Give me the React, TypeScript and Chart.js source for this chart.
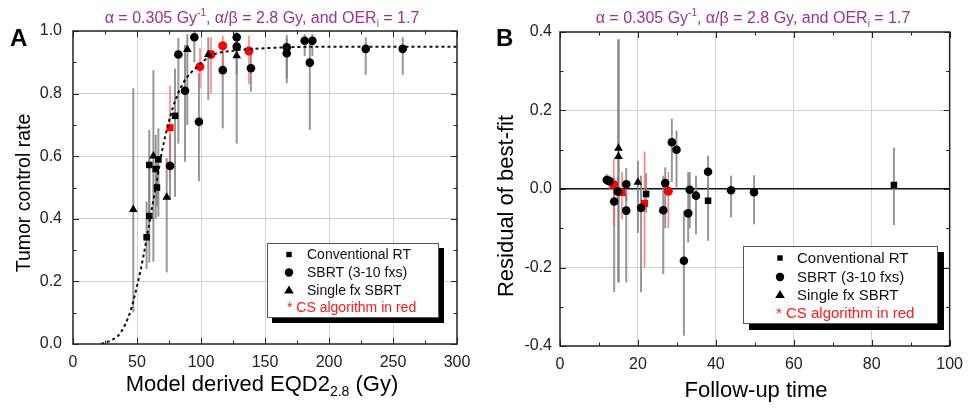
import React, { useEffect, useRef } from "react";
import { Chart, registerables } from "chart.js";
Chart.register(...registerables);

type Row = [number, number, number, number]; // x, y, lower, upper

// ---------------- Panel A data (EQD2 vs TCP) ----------------
const aConventional: Row[] = [
  [57.5, 0.341, 0.24, 0.455],
  [59.6, 0.409, 0.26, 0.59],
  [59.6, 0.572, 0.39, 0.684],
  [64.6, 0.559, 0.40, 0.668],
  [66.7, 0.59, 0.407, 0.689],
  [65.6, 0.50, 0.44, 0.58],
  [79.7, 0.729, 0.47, 0.88],
];
const aConventionalCS: Row[] = [[75.8, 0.691, 0.529, 0.824]];
const aSBRT: Row[] = [
  [75.8, 0.569, 0.46, 0.67],
  [82.3, 0.925, 0.64, 0.978],
  [87.5, 0.809, 0.582, 0.955],
  [94.8, 0.98, 0.9, 1.0],
  [98.4, 0.71, 0.52, 0.865],
  [117, 0.875, 0.689, 0.965],
  [127.9, 0.98, 0.93, 1.0],
  [127.9, 0.95, 0.86, 0.99],
  [139, 0.881, 0.806, 0.94],
  [167, 0.948, 0.833, 0.987],
  [167, 0.929, 0.85, 0.975],
  [181, 0.969, 0.92, 0.99],
  [187, 0.969, 0.92, 0.99],
  [185, 0.899, 0.684, 0.97],
  [228.7, 0.943, 0.86, 0.98],
  [257.6, 0.943, 0.86, 0.98],
];
const aSBRTCS: Row[] = [
  [99.2, 0.886, 0.817, 0.945],
  [107.8, 0.925, 0.8, 0.98],
  [117, 0.953, 0.87, 0.985],
  [137.5, 0.936, 0.83, 0.985],
];
const aSingle: Row[] = [
  [47.1, 0.43, 0.101, 0.817],
  [62.8, 0.601, 0.263, 0.875],
  [73.2, 0.469, 0.229, 0.594],
  [89.3, 0.941, 0.7, 0.99],
  [105.7, 0.925, 0.78, 0.98],
  [127.9, 0.921, 0.64, 0.975],
];
const aFitX = [22, 24, 30, 37, 44.5, 50, 55, 60, 65, 70, 78, 86, 97, 109, 125, 150, 200, 300];
const aFitY = [0, 0.003, 0.012, 0.035, 0.1, 0.185, 0.28, 0.395, 0.51, 0.625, 0.755, 0.833, 0.886, 0.923, 0.937, 0.945, 0.95, 0.95];
const aXTickLabels = ["0", "50", "100", "150", "200", "250", "300"];
const aYTickLabels = ["0.0", "0.2", "0.4", "0.6", "0.8", "1.0"];

// ---------------- Panel B data (follow-up vs residual) ----------------
const bConventional: Row[] = [
  [22.1, -0.013, -0.06, 0.04],
  [38.0, -0.03, -0.132, 0.01],
  [85.7, 0.01, -0.092, 0.105],
];
const bConventionalCS: Row[] = [
  [15.9, -0.009, -0.078, 0.043],
  [21.7, -0.037, -0.2, 0.095],
];
const bSBRT: Row[] = [
  [12.0, 0.023, 0.01, 0.038],
  [12.7, 0.02, 0.0, 0.035],
  [13.9, -0.032, -0.262, 0.03],
  [14.8, -0.006, -0.04, 0.03],
  [17.0, 0.012, -0.03, 0.053],
  [17.0, -0.055, -0.238, -0.01],
  [20.8, -0.048, -0.263, 0.034],
  [26.5, -0.054, -0.217, 0.034],
  [27.0, 0.015, -0.1, 0.055],
  [28.7, 0.119, 0.017, 0.179],
  [29.9, 0.1, 0.004, 0.149],
  [31.8, -0.183, -0.374, -0.055],
  [32.9, -0.062, -0.136, 0.043],
  [33.3, -0.002, -0.1, 0.043],
  [34.9, -0.017, -0.115, 0.034],
  [38.0, 0.044, 0.0, 0.085],
  [43.9, -0.003, -0.072, 0.034],
  [49.8, -0.008, -0.09, 0.035],
];
const bSBRTCS: Row[] = [
  [13.8, 0.011, -0.094, 0.077],
  [27.8, -0.006, -0.1, 0.043],
];
const bSingle: Row[] = [
  [15.0, 0.104, -0.238, 0.381],
  [15.0, 0.083, -0.238, 0.381],
  [20.0, 0.017, -0.112, 0.072],
];
const bXTickLabels = ["0", "20", "40", "60", "80", "100"];
const bYTickLabels = ["-0.4", "-0.2", "0.0", "0.2", "0.4"];

const legendLabels = ["Conventional RT", "SBRT (3-10 fxs)", "Single fx SBRT"];
const legendStyles = ["rect", "circle", "triangle"];
const csNote = "* CS algorithm in red";

// ---------------- Rendering ----------------
const FONT = "Arial, 'Liberation Sans', Helvetica, sans-serif";
const W = 486;
const H = 409;
const PURPLE = "#9a3399";

type Seg = { t: string; s: number; dy?: number };
const titleSegs: Seg[] = [
  { t: "\u03b1 = 0.305 Gy", s: 16 },
  { t: "-1", s: 10, dy: -7 },
  { t: ", \u03b1/\u03b2 = 2.8 Gy, and OER", s: 16 },
  { t: "i", s: 10, dy: 4 },
  { t: " = 1.7", s: 16 },
];

function drawRich(ctx: CanvasRenderingContext2D, segs: Seg[], cx: number, base: number, color: string) {
  let total = 0;
  for (const g of segs) {
    ctx.font = `${g.s}px ${FONT}`;
    total += ctx.measureText(g.t).width;
  }
  let x = cx - total / 2;
  ctx.fillStyle = color;
  ctx.textAlign = "left";
  ctx.textBaseline = "alphabetic";
  for (const g of segs) {
    ctx.font = `${g.s}px ${FONT}`;
    ctx.fillText(g.t, x, base + (g.dy || 0));
    x += ctx.measureText(g.t).width;
  }
}

function marker(ctx: CanvasRenderingContext2D, style: string, x: number, y: number, r: number) {
  ctx.beginPath();
  if (style === "rect") {
    ctx.rect(x - r * 0.75, y - r * 0.75, r * 1.5, r * 1.5);
  } else if (style === "circle") {
    ctx.arc(x, y, r, 0, Math.PI * 2);
  } else {
    ctx.moveTo(x, y - r * 1.05);
    ctx.lineTo(x + r * 1.1, y + r * 0.8);
    ctx.lineTo(x - r * 1.1, y + r * 0.8);
    ctx.closePath();
  }
  ctx.fill();
}

interface Spec {
  letter: string;
  xMin: number; xMax: number; xStep: number; xMinor: number;
  yMin: number; yMax: number; yStep: number; yMinor: number;
  xLabels: string[]; yLabels: string[];
  area: { left: number; right: number; top: number; bottom: number };
  titleCx: number;
  xTitle: Seg[]; xTitleCx: number; xTitleBase: number;
  yTitle: string; yTitleBaseX: number; yTitleCy: number; yTitleSize: number;
  tickPadX: number; tickPadY: number;
  zeroLine: boolean;
  legend: { l: number; t: number; r: number; b: number; off: number; mx: number; tx: number; rx: number; rows: number[]; size: number };
}

function series(rows: Row[], style: string, color: string, r: number, errColor: string, errWidth: number) {
  return {
    type: "scatter",
    data: rows.map((q) => ({ x: q[0], y: q[1] })),
    pointStyle: style,
    pointRadius: r,
    pointHoverRadius: r,
    pointBackgroundColor: color,
    pointBorderColor: color,
    pointBorderWidth: 0,
    backgroundColor: color,
    borderColor: color,
    errLo: rows.map((q) => q[2]),
    errHi: rows.map((q) => q[3]),
    errColor,
    errWidth,
  } as any;
}

function makeChart(canvas: HTMLCanvasElement, spec: Spec, datasets: any[]) {
  const A = spec.area;
  const mkGrid = (min: number, max: number, zero: boolean) => ({
    display: true,
    drawTicks: false,
    color: (c: any) => {
      const v = c.tick ? c.tick.value : NaN;
      if (isNaN(v)) return "rgba(0,0,0,0)";
      if (Math.abs(v - min) < 1e-9 || Math.abs(v - max) < 1e-9) return "rgba(0,0,0,0)";
      if (zero && Math.abs(v) < 1e-9) return "#111";
      return "#d2d2d2";
    },
    lineWidth: (c: any) => {
      const v = c.tick ? c.tick.value : NaN;
      if (zero && Math.abs(v) < 1e-9) return 1.4;
      return 1;
    },
  });

  const errPlugin = {
    id: "errbars",
    beforeDatasetsDraw(chart: any) {
      const ctx = chart.ctx as CanvasRenderingContext2D;
      const xs = chart.scales.x;
      const ys = chart.scales.y;
      ctx.save();
      chart.data.datasets.forEach((ds: any) => {
        if (!ds.errLo) return;
        ctx.strokeStyle = ds.errColor;
        ctx.lineWidth = ds.errWidth;
        ds.data.forEach((p: any, i: number) => {
          const px = xs.getPixelForValue(p.x);
          ctx.beginPath();
          ctx.moveTo(px, ys.getPixelForValue(ds.errLo[i]));
          ctx.lineTo(px, ys.getPixelForValue(ds.errHi[i]));
          ctx.stroke();
        });
      });
      ctx.restore();
    },
  };

  const decoPlugin = {
    id: "deco",
    afterDraw(chart: any) {
      const ctx = chart.ctx as CanvasRenderingContext2D;
      const xs = chart.scales.x;
      const ys = chart.scales.y;
      const ca = chart.chartArea;
      ctx.save();
      // ticks (inward, all four sides)
      ctx.strokeStyle = "#222";
      ctx.lineWidth = 1;
      const nx = Math.round((spec.xMax - spec.xMin) / spec.xMinor);
      for (let i = 0; i <= nx; i++) {
        const v = spec.xMin + i * spec.xMinor;
        const q = (v - spec.xMin) / spec.xStep;
        const len = Math.abs(q - Math.round(q)) < 1e-6 ? 6 : 3.5;
        const px = Math.round(xs.getPixelForValue(v)) + 0.5;
        ctx.beginPath();
        ctx.moveTo(px, ca.bottom);
        ctx.lineTo(px, ca.bottom - len);
        ctx.moveTo(px, ca.top);
        ctx.lineTo(px, ca.top + len);
        ctx.stroke();
      }
      const ny = Math.round((spec.yMax - spec.yMin) / spec.yMinor);
      for (let i = 0; i <= ny; i++) {
        const v = spec.yMin + i * spec.yMinor;
        const q = (v - spec.yMin) / spec.yStep;
        const len = Math.abs(q - Math.round(q)) < 1e-6 ? 6 : 3.5;
        const py = Math.round(ys.getPixelForValue(v)) + 0.5;
        ctx.beginPath();
        ctx.moveTo(ca.left, py);
        ctx.lineTo(ca.left + len, py);
        ctx.moveTo(ca.right, py);
        ctx.lineTo(ca.right - len, py);
        ctx.stroke();
      }
      // frame
      ctx.strokeStyle = "#222";
      ctx.lineWidth = 1.5;
      ctx.strokeRect(ca.left, ca.top, ca.right - ca.left, ca.bottom - ca.top);

      // legend
      const L = spec.legend;
      ctx.fillStyle = "#000";
      ctx.fillRect(L.l + L.off, L.t + L.off, L.r - L.l, L.b - L.t);
      ctx.fillStyle = "#fff";
      ctx.fillRect(L.l, L.t, L.r - L.l, L.b - L.t);
      ctx.strokeStyle = "#555";
      ctx.lineWidth = 1;
      ctx.strokeRect(L.l + 0.5, L.t + 0.5, L.r - L.l - 1, L.b - L.t - 1);
      ctx.font = `${L.size}px ${FONT}`;
      ctx.textBaseline = "middle";
      ctx.textAlign = "left";
      legendLabels.forEach((lab, i) => {
        ctx.fillStyle = "#000";
        marker(ctx, legendStyles[i], L.mx, L.rows[i], legendStyles[i] === "rect" ? 3.6 : legendStyles[i] === "circle" ? 4.2 : 4.4);
        ctx.fillStyle = "#111";
        ctx.fillText(lab, L.tx, L.rows[i] + 1);
      });
      ctx.fillStyle = "#ff1a1a";
      ctx.fillText(csNote, L.rx, L.rows[3] + 1);

      // title
      drawRich(ctx, titleSegs, spec.titleCx, 23, PURPLE);
      // panel letter
      ctx.font = `bold 24px ${FONT}`;
      ctx.fillStyle = "#000";
      ctx.textAlign = "left";
      ctx.textBaseline = "alphabetic";
      ctx.fillText(spec.letter, 10, 46);
      // x title
      drawRich(ctx, spec.xTitle, spec.xTitleCx, spec.xTitleBase, "#000");
      // y title
      ctx.save();
      ctx.translate(spec.yTitleBaseX, spec.yTitleCy);
      ctx.rotate(-Math.PI / 2);
      ctx.font = `${spec.yTitleSize}px ${FONT}`;
      ctx.textAlign = "center";
      ctx.textBaseline = "alphabetic";
      ctx.fillStyle = "#000";
      ctx.fillText(spec.yTitle, 0, 0);
      ctx.restore();
      ctx.restore();
    },
  };

  const labelOf = (labels: string[], min: number, step: number) => (v: any) => {
    const k = Math.round((Number(v) - min) / step);
    return labels[k] ?? "";
  };

  return new Chart(canvas, {
    type: "scatter",
    data: { datasets },
    options: {
      responsive: false,
      animation: false,
      events: [],
      layout: { padding: { left: 0, top: A.top, right: W - A.right, bottom: 0 } },
      plugins: { legend: { display: false }, tooltip: { enabled: false }, title: { display: false } },
      scales: {
        x: {
          type: "linear",
          position: "bottom",
          min: spec.xMin,
          max: spec.xMax,
          grid: mkGrid(spec.xMin, spec.xMax, false),
          border: { display: false },
          ticks: {
            stepSize: spec.xStep,
            autoSkip: false,
            maxRotation: 0,
            padding: spec.tickPadX,
            color: "#222",
            font: { family: FONT, size: 16 },
            callback: labelOf(spec.xLabels, spec.xMin, spec.xStep),
          },
          afterFit: (s: any) => {
            s.height = H - A.bottom;
          },
        },
        y: {
          type: "linear",
          position: "left",
          min: spec.yMin,
          max: spec.yMax,
          grid: mkGrid(spec.yMin, spec.yMax, spec.zeroLine),
          border: { display: false },
          ticks: {
            stepSize: spec.yStep,
            autoSkip: false,
            padding: spec.tickPadY,
            color: "#222",
            font: { family: FONT, size: 16 },
            callback: labelOf(spec.yLabels, spec.yMin, spec.yStep),
          },
          afterFit: (s: any) => {
            s.width = A.left;
          },
        },
      },
    } as any,
    plugins: [errPlugin, decoPlugin],
  });
}

const GRAY = "rgba(125,125,125,0.8)";
const LRED = "rgba(255,90,90,0.75)";

function datasetsFor(conv: Row[], convCS: Row[], sbrt: Row[], sbrtCS: Row[], single: Row[]) {
  return [
    series(conv, "rect", "#000", 4.6, GRAY, 2),
    series(sbrt, "circle", "#000", 4.3, GRAY, 2),
    series(single, "triangle", "#000", 5, GRAY, 2),
    series(convCS, "rect", "#ff0000", 5, LRED, 1.6),
    series(sbrtCS, "circle", "#ff0000", 4.5, LRED, 1.6),
  ];
}

const specA: Spec = {
  letter: "A",
  xMin: 0, xMax: 300, xStep: 50, xMinor: 25,
  yMin: 0, yMax: 1, yStep: 0.2, yMinor: 0.1,
  xLabels: aXTickLabels, yLabels: aYTickLabels,
  area: { left: 73, right: 457, top: 31, bottom: 344 },
  titleCx: 262,
  xTitle: [
    { t: "Model derived EQD2", s: 22 },
    { t: "2.8", s: 14, dy: 5 },
    { t: " (Gy)", s: 22 },
  ],
  xTitleCx: 262, xTitleBase: 391,
  yTitle: "Tumor control rate", yTitleBaseX: 30, yTitleCy: 193, yTitleSize: 19.5,
  tickPadX: 9, tickPadY: 11,
  zeroLine: false,
  legend: { l: 267, t: 243, r: 439, b: 318, off: 5, mx: 289, tx: 307, rx: 287, rows: [254.5, 272.5, 290, 307.5], size: 14 },
};

const specB: Spec = {
  letter: "B",
  xMin: 0, xMax: 100, xStep: 20, xMinor: 10,
  yMin: -0.4, yMax: 0.4, yStep: 0.2, yMinor: 0.1,
  xLabels: bXTickLabels, yLabels: bYTickLabels,
  area: { left: 74, right: 468, top: 32, bottom: 346 },
  titleCx: 267,
  xTitle: [{ t: "Follow-up time", s: 22 }],
  xTitleCx: 270, xTitleBase: 397,
  yTitle: "Residual of best-fit", yTitleBaseX: 27, yTitleCy: 206, yTitleSize: 22,
  tickPadX: 9, tickPadY: 8,
  zeroLine: true,
  legend: { l: 257, t: 246, r: 452, b: 324, off: 6, mx: 294, tx: 311, rx: 290, rows: [258, 277, 294.5, 313], size: 15 },
};

export default function App() {
  const refA = useRef<HTMLCanvasElement>(null);
  const refB = useRef<HTMLCanvasElement>(null);

  useEffect(() => {
    const fit = {
      type: "scatter",
      showLine: true,
      data: aFitX.map((x, i) => ({ x, y: aFitY[i] })),
      borderColor: "#111",
      borderWidth: 2,
      borderDash: [3, 3],
      pointRadius: 0,
      cubicInterpolationMode: "monotone",
      fill: false,
    } as any;
    const chartA = makeChart(refA.current!, specA, [
      fit,
      ...datasetsFor(aConventional, aConventionalCS, aSBRT, aSBRTCS, aSingle),
    ]);
    const chartB = makeChart(refB.current!, specB, datasetsFor(bConventional, bConventionalCS, bSBRT, bSBRTCS, bSingle));
    return () => {
      chartA.destroy();
      chartB.destroy();
    };
  }, []);

  return (
    <div style={{ position: "fixed", left: 0, top: 0, width: 972, height: 409, background: "#fff" }}>
      <canvas ref={refA} width={W} height={H} style={{ position: "absolute", left: 0, top: 0, width: W, height: H }} />
      <canvas ref={refB} width={W} height={H} style={{ position: "absolute", left: W, top: 0, width: W, height: H }} />
    </div>
  );
}
